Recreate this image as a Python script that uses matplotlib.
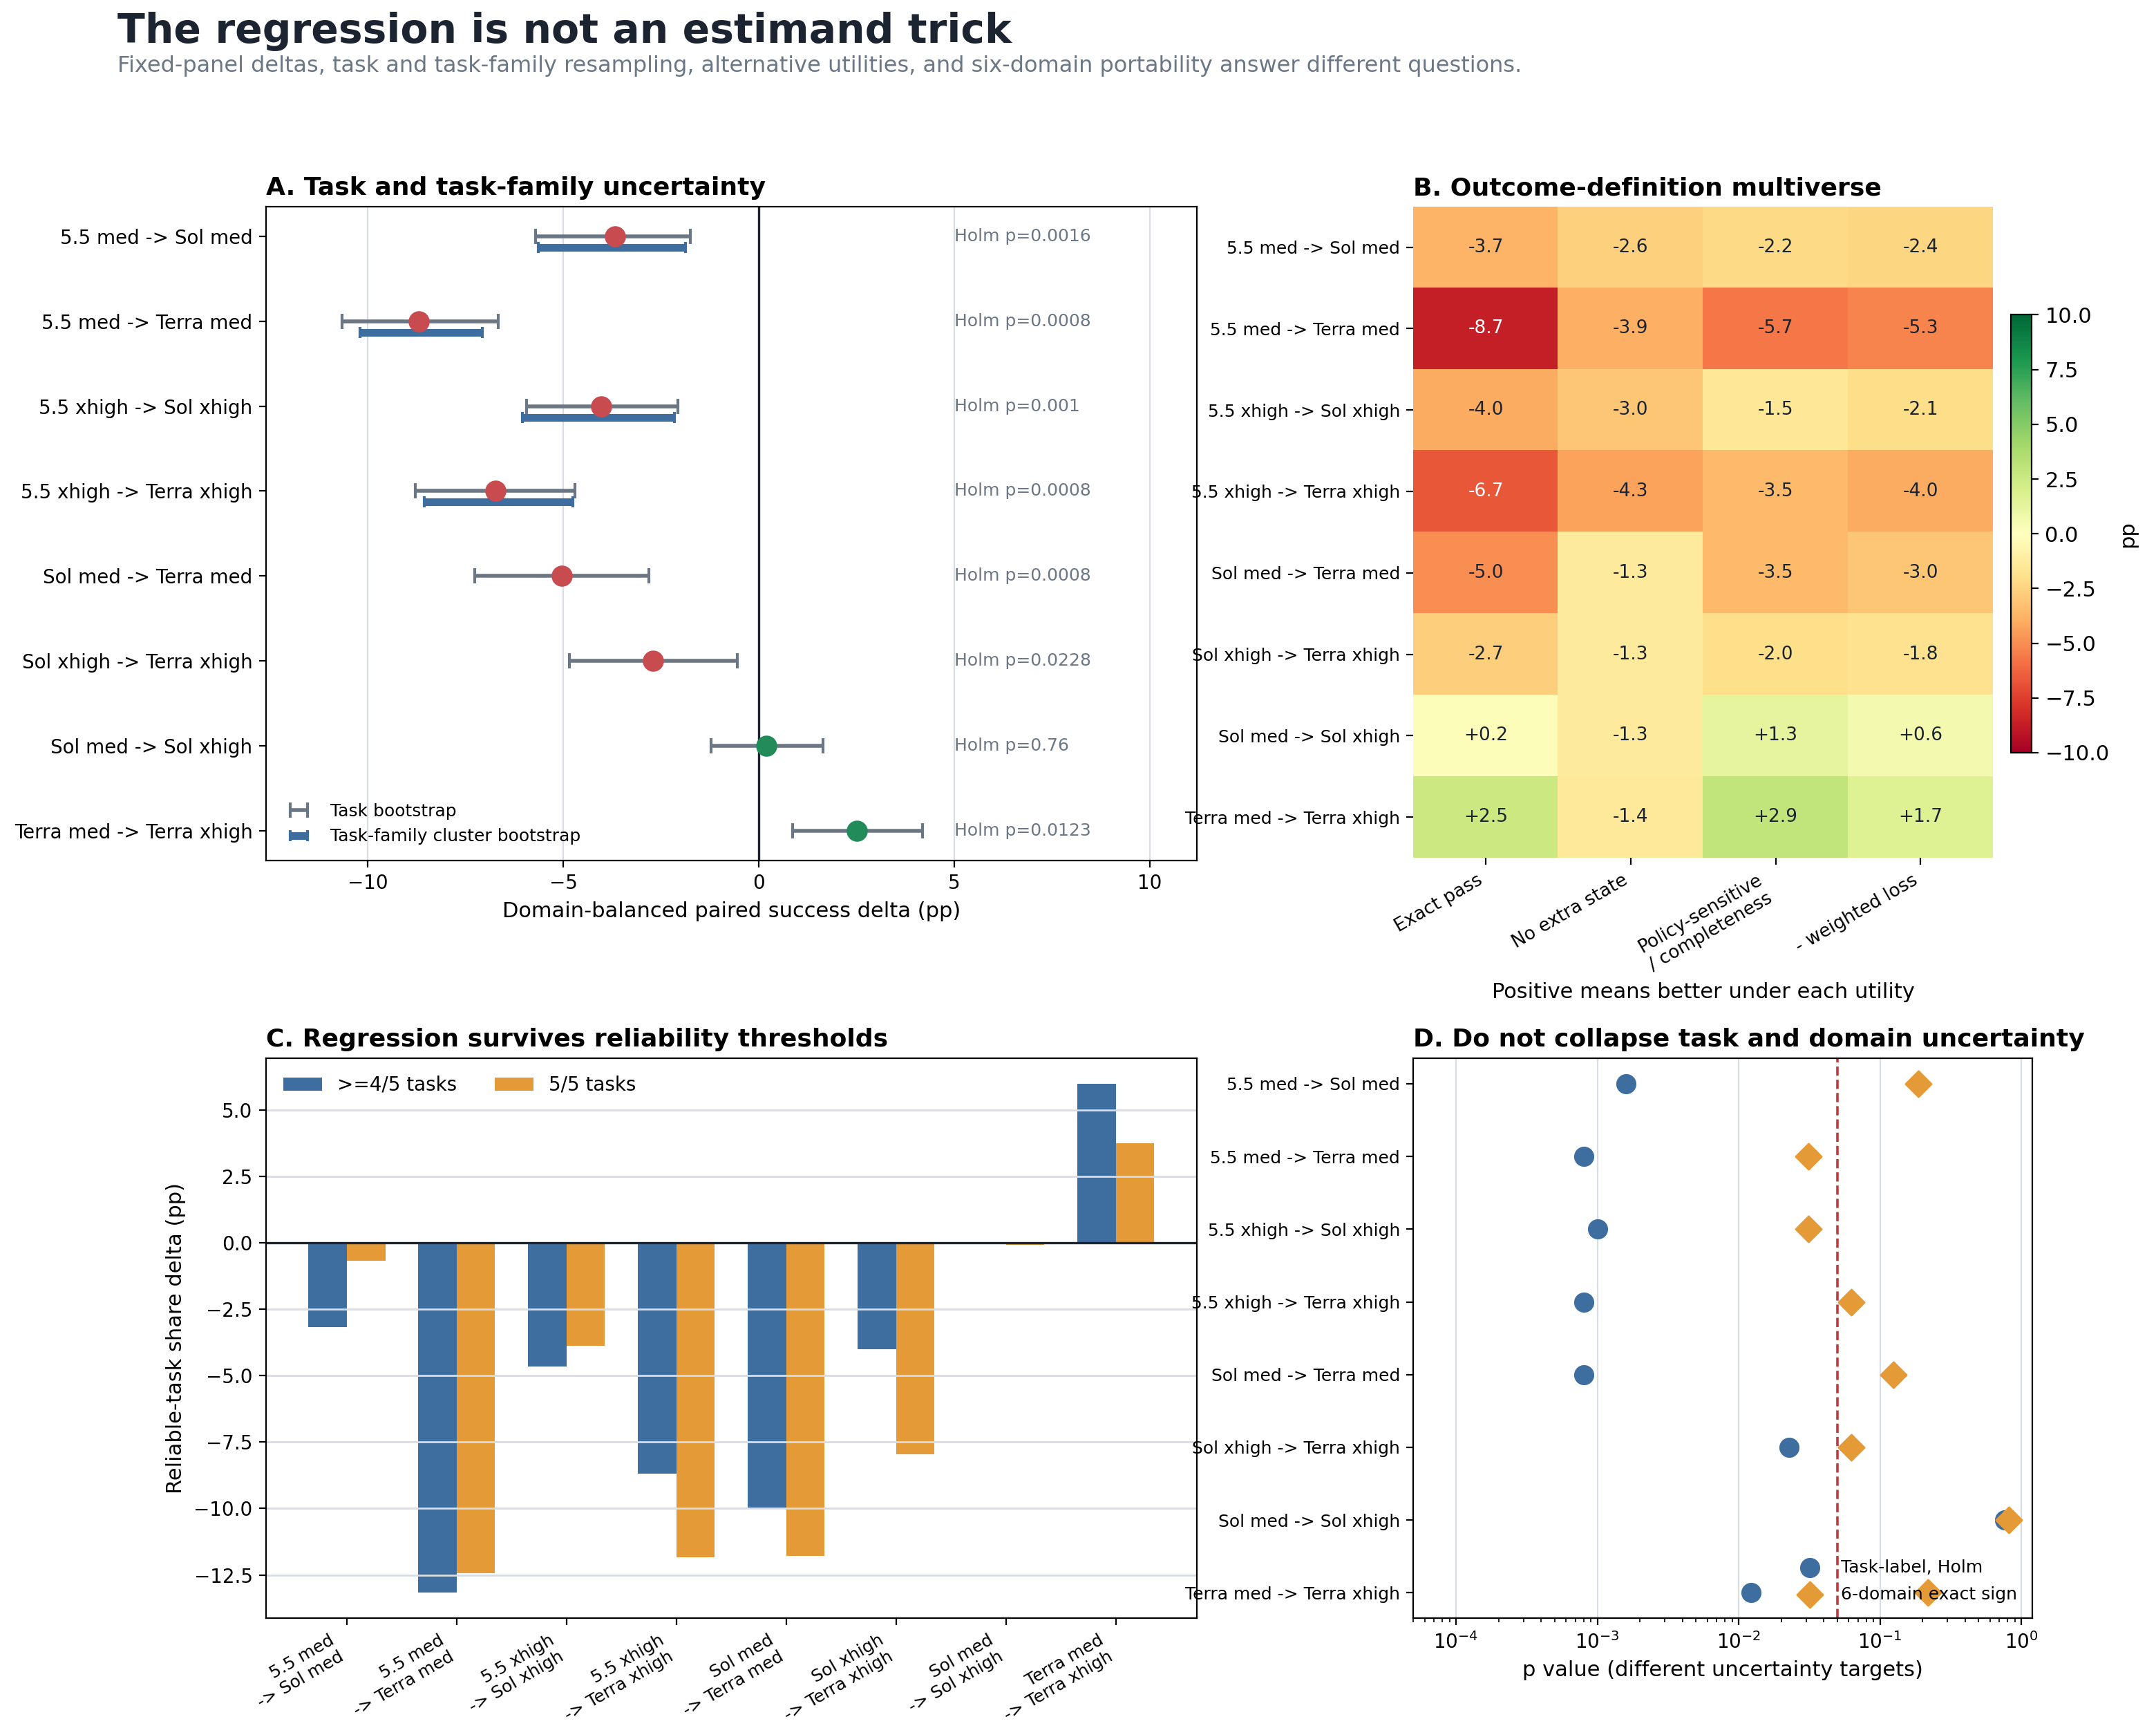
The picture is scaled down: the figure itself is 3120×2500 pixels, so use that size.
import numpy as np
import matplotlib
matplotlib.use("Agg")
import matplotlib.pyplot as plt

# contrasts shared by all four panels
contrasts = ["5.5 med -> Sol med", "5.5 med -> Terra med", "5.5 xhigh -> Sol xhigh",
             "5.5 xhigh -> Terra xhigh", "Sol med -> Terra med", "Sol xhigh -> Terra xhigh",
             "Sol med -> Sol xhigh", "Terra med -> Terra xhigh"]
contrasts_wrapped = ["5.5 med\n-> Sol med", "5.5 med\n-> Terra med", "5.5 xhigh\n-> Sol xhigh",
                     "5.5 xhigh\n-> Terra xhigh", "Sol med\n-> Terra med", "Sol xhigh\n-> Terra xhigh",
                     "Sol med\n-> Sol xhigh", "Terra med\n-> Terra xhigh"]

# panel A
delta = [-3.67, -8.69, -4.03, -6.73, -5.03, -2.71, 0.20, 2.52]
task_lo = [-5.70, -10.66, -5.93, -8.78, -7.27, -4.84, -1.21, 0.87]
task_hi = [-1.75, -6.67, -2.06, -4.70, -2.81, -0.55, 1.64, 4.19]
clus_lo = [-5.63, -10.19, -6.04, -8.55]
clus_hi = [-1.88, -7.07, -2.15, -4.75]
holm_p = [0.0016, 0.0008, 0.001, 0.0008, 0.0008, 0.0228, 0.76, 0.0123]

# panel B
utilities = ["Exact pass", "No extra state", "Policy-sensitive\n/ completeness", "- weighted loss"]
multiverse = np.array([
    [-3.7, -2.6, -2.2, -2.4],
    [-8.7, -3.9, -5.7, -5.3],
    [-4.0, -3.0, -1.5, -2.1],
    [-6.7, -4.3, -3.5, -4.0],
    [-5.0, -1.3, -3.5, -3.0],
    [-2.7, -1.3, -2.0, -1.8],
    [0.2, -1.3, 1.3, 0.6],
    [2.5, -1.4, 2.9, 1.7],
])

# panel C
share_4of5 = [-3.18, -13.17, -4.66, -8.70, -10.0, -4.02, 0.0, 5.98]
share_5of5 = [-0.67, -12.43, -3.87, -11.83, -11.78, -7.96, -0.07, 3.75]

# panel D
sign_p = [12 / 64, 2 / 64, 2 / 64, 4 / 64, 8 / 64, 4 / 64, 52 / 64, 14 / 64]

DARK = "#1b2430"
GRAY = "#6b7785"
BLUE = "#3e6e9f"
ORANGE = "#e49b37"
RED = "#c84b50"
GREEN = "#218c5a"
GRID = "#d9dde3"

fig = plt.figure(figsize=(15.6, 12.5), dpi=200)
fig.text(0.0545, 0.993, "The regression is not an estimand trick", fontsize=21,
         fontweight="bold", color=DARK, va="top")
fig.text(0.0545, 0.968, "Fixed-panel deltas, task and task-family resampling, alternative utilities, "
         "and six-domain portability answer different questions.", fontsize=11.5, color=GRAY, va="top")

y = np.arange(len(contrasts))

# ---- A
axA = fig.add_axes([0.1234, 0.502, 0.4316, 0.3785])
task_handle = None
for i in range(len(contrasts)):
    eb = axA.errorbar(delta[i], y[i], xerr=[[delta[i] - task_lo[i]], [task_hi[i] - delta[i]]],
                      fmt="none", ecolor=GRAY, elinewidth=2, capsize=4, capthick=1.5, zorder=2)
    if task_handle is None:
        task_handle = eb
clus_handle = None
for i in range(len(clus_lo)):
    mid = (clus_lo[i] + clus_hi[i]) / 2
    eb = axA.errorbar(mid, y[i] + 0.13, xerr=[[mid - clus_lo[i]], [clus_hi[i] - mid]],
                      fmt="none", ecolor=BLUE, elinewidth=4, capsize=3, capthick=1.5, zorder=2)
    if clus_handle is None:
        clus_handle = eb
for i in range(len(contrasts)):
    axA.plot(delta[i], y[i], "o", ms=10, color=RED if delta[i] < 0 else GREEN, zorder=3)
    axA.text(5, y[i], f"Holm p={holm_p[i]:g}", fontsize=9, color=GRAY, va="center", ha="left")
axA.axvline(0, color=DARK, lw=1.2)
axA.set_xlim(-12.6, 11.2)
axA.set_ylim(7.35, -0.35)
axA.set_yticks(y)
axA.set_yticklabels(contrasts, fontsize=10)
axA.grid(axis="x", color=GRID, lw=0.8)
axA.set_axisbelow(True)
axA.set_xlabel("Domain-balanced paired success delta (pp)", fontsize=11)
axA.set_title("A. Task and task-family uncertainty", loc="left", fontweight="bold", fontsize=13)
axA.legend([task_handle, clus_handle], ["Task bootstrap", "Task-family cluster bootstrap"],
           loc="lower left", frameon=False, fontsize=9)

# ---- B
axB = fig.add_axes([0.6556, 0.5036, 0.2688, 0.3769])
im = axB.imshow(multiverse, cmap="RdYlGn", vmin=-10, vmax=10, aspect="auto")
for r in range(multiverse.shape[0]):
    for c in range(multiverse.shape[1]):
        v = multiverse[r, c]
        axB.text(c, r, f"{v:+.1f}" if v > 0 else f"{v:.1f}", ha="center", va="center",
                 fontsize=9.5, color="white" if abs(v) > 6 else DARK)
axB.set_yticks(y)
axB.set_yticklabels(contrasts, fontsize=9)
axB.set_xticks(range(len(utilities)))
axB.set_xticklabels(utilities, rotation=30, ha="right", fontsize=9.5)
for s in axB.spines.values():
    s.set_visible(False)
axB.set_xlabel("Positive means better under each utility", fontsize=11, labelpad=4)
axB.set_title("B. Outcome-definition multiverse", loc="left", fontweight="bold", fontsize=13)
cax = fig.add_axes([0.9327, 0.5644, 0.0096, 0.2534])
cb = fig.colorbar(im, cax=cax)
cb.set_label("pp", fontsize=11)
cb.ax.tick_params(labelsize=11)

# ---- C
axC = fig.add_axes([0.1234, 0.0635, 0.4316, 0.3241])
w = 0.35
axC.bar(y - w / 2, share_4of5, w, color=BLUE, label=">=4/5 tasks")
axC.bar(y + w / 2, share_5of5, w, color=ORANGE, label="5/5 tasks")
axC.axhline(0, color=DARK, lw=1.2)
axC.grid(axis="y", color=GRID, lw=1)
axC.set_xticks(y)
axC.set_xticklabels(contrasts_wrapped, rotation=30, ha="right", fontsize=9)
axC.set_ylabel("Reliable-task share delta (pp)", fontsize=11)
axC.legend(loc="upper left", ncol=2, frameon=False, fontsize=10)
axC.set_title("C. Regression survives reliability thresholds", loc="left", fontweight="bold", fontsize=13)

# ---- D
axD = fig.add_axes([0.6556, 0.0635, 0.2871, 0.3241])
axD.scatter(holm_p, y, s=90, color=BLUE, marker="o", label="Task-label, Holm", zorder=3)
axD.scatter(sign_p, y, s=90, color=ORANGE, marker="D", label="6-domain exact sign", zorder=3)
axD.axvline(0.05, color="#c0393f", ls="--", lw=1.3)
axD.set_xscale("log")
axD.set_xlim(5e-5, 1.2)
axD.set_ylim(7.35, -0.35)
axD.set_yticks(y)
axD.set_yticklabels(contrasts, fontsize=9)
axD.grid(axis="x", which="major", color=GRID, lw=0.8)
axD.set_axisbelow(True)
axD.set_xlabel("p value (different uncertainty targets)", fontsize=11)
axD.legend(loc="lower right", frameon=False, fontsize=9, labelspacing=0.6)
axD.set_title("D. Do not collapse task and domain uncertainty", loc="left", fontweight="bold", fontsize=13)

fig.savefig("out.png", dpi=200)
